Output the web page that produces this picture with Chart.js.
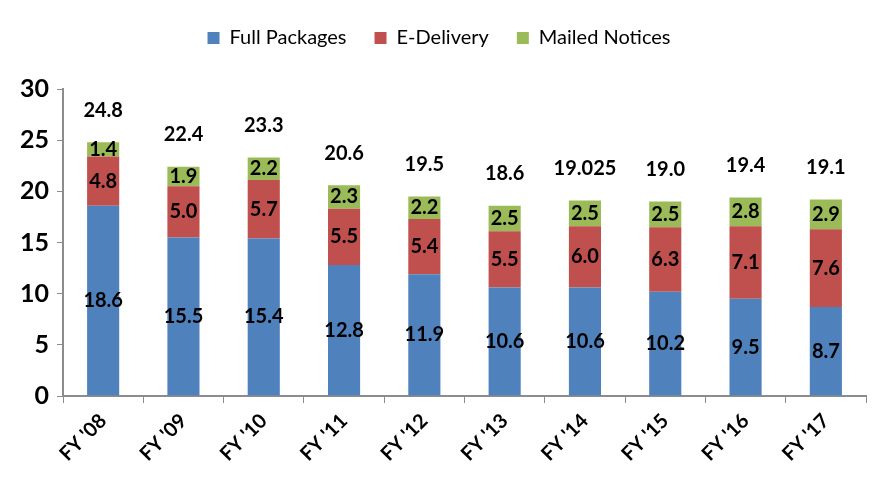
<!DOCTYPE html>
<html>
<head>
<meta charset="utf-8">
<script src="https://cdn.jsdelivr.net/npm/chart.js@4/dist/chart.umd.min.js"></script>
<style>
  html, body { margin: 0; padding: 0; background: #fff; }
  #wrap { width: 876px; height: 488px; }
</style>
</head>
<body>
<div id="wrap"><canvas id="volumeChart"></canvas></div>
<script>
// Fiscal years on the x axis
const years = ["FY '08", "FY '09", "FY '10", "FY '11", "FY '12", "FY '13", "FY '14", "FY '15", "FY '16", "FY '17"];

// Series values (millions)
const fullPackages = [18.6, 15.5, 15.4, 12.8, 11.9, 10.6, 10.6, 10.2, 9.5, 8.7];
const eDelivery = [4.8, 5.0, 5.7, 5.5, 5.4, 5.5, 6.0, 6.3, 7.1, 7.6];
const mailedNotices = [1.4, 1.9, 2.2, 2.3, 2.2, 2.5, 2.5, 2.5, 2.8, 2.9];

// Totals as printed above each bar
const totalLabels = ['24.8', '22.4', '23.3', '20.6', '19.5', '18.6', '19.025', '19.0', '19.4', '19.1'];

const yTicks = [0, 5, 10, 15, 20, 25, 30];

const FONT = 'Lato, "Open Sans", sans-serif';

// draw value labels inside the segments and totals above the stacks
const labelPlugin = {
    id: 'barLabels',
    afterDatasetsDraw(chart) {
        const ctx = chart.ctx;
        ctx.save();
        ctx.fillStyle = '#000';
        ctx.font = 'bold 20px ' + FONT;
        ctx.textAlign = 'center';
        ctx.textBaseline = 'middle';
        chart.data.datasets.forEach((ds, i) => {
            chart.getDatasetMeta(i).data.forEach((bar, j) => {
                const mid = (bar.y + bar.base) / 2;
                ctx.fillText(ds.data[j].toFixed(1), bar.x, mid);
            });
        });
        const top = chart.getDatasetMeta(chart.data.datasets.length - 1).data;
        top.forEach((bar, j) => {
            ctx.fillText(totalLabels[j], bar.x, bar.y - 32);
        });
        ctx.restore();
    }
};

// extra room under the legend
const legendGap = {
    id: 'legendGap',
    beforeInit(chart) {
        const fit = chart.legend.fit;
        chart.legend.fit = function () {
            fit.bind(chart.legend)();
            this.height += 31;
        };
    }
};

const data = {
    labels: years,
    datasets: [
        { label: 'Full Packages', data: fullPackages, backgroundColor: '#4F81BD' },
        { label: 'E-Delivery', data: eDelivery, backgroundColor: '#C0504D' },
        { label: 'Mailed Notices', data: mailedNotices, backgroundColor: '#9BBB59' }
    ]
};

const options = {
    responsive: true,
    maintainAspectRatio: false,
    animation: false,
    layout: { padding: { left: 12, right: 10, top: 0, bottom: 16 } },
    datasets: {
        bar: { barPercentage: 0.4, categoryPercentage: 1.0 }
    },
    plugins: {
        legend: {
            position: 'top',
            labels: {
                boxWidth: 12,
                boxHeight: 12,
                padding: 28,
                color: '#000',
                font: { family: FONT, size: 20 }
            }
        },
        tooltip: { enabled: false }
    },
    scales: {
        x: {
            stacked: true,
            grid: { drawOnChartArea: false, color: '#8c8c8c', tickLength: 7 },
            border: { color: '#8c8c8c', width: 2 },
            ticks: {
                color: '#000',
                maxRotation: 45,
                minRotation: 45,
                padding: 6,
                font: { family: FONT, size: 20, weight: 'bold' }
            }
        },
        y: {
            stacked: true,
            min: 0,
            max: 30,
            afterBuildTicks(axis) {
                axis.ticks = yTicks.map(v => ({ value: v }));
            },
            grid: { drawOnChartArea: false, color: '#8c8c8c', tickLength: 6 },
            border: { color: '#8c8c8c', width: 2 },
            ticks: {
                color: '#000',
                padding: 8,
                font: { family: FONT, size: 25, weight: 'bold' }
            }
        }
    }
};

const ctx = document.getElementById('volumeChart').getContext('2d');
new Chart(ctx, {
    type: 'bar',
    data: data,
    options: options,
    plugins: [labelPlugin, legendGap]
});
</script>
</body>
</html>
